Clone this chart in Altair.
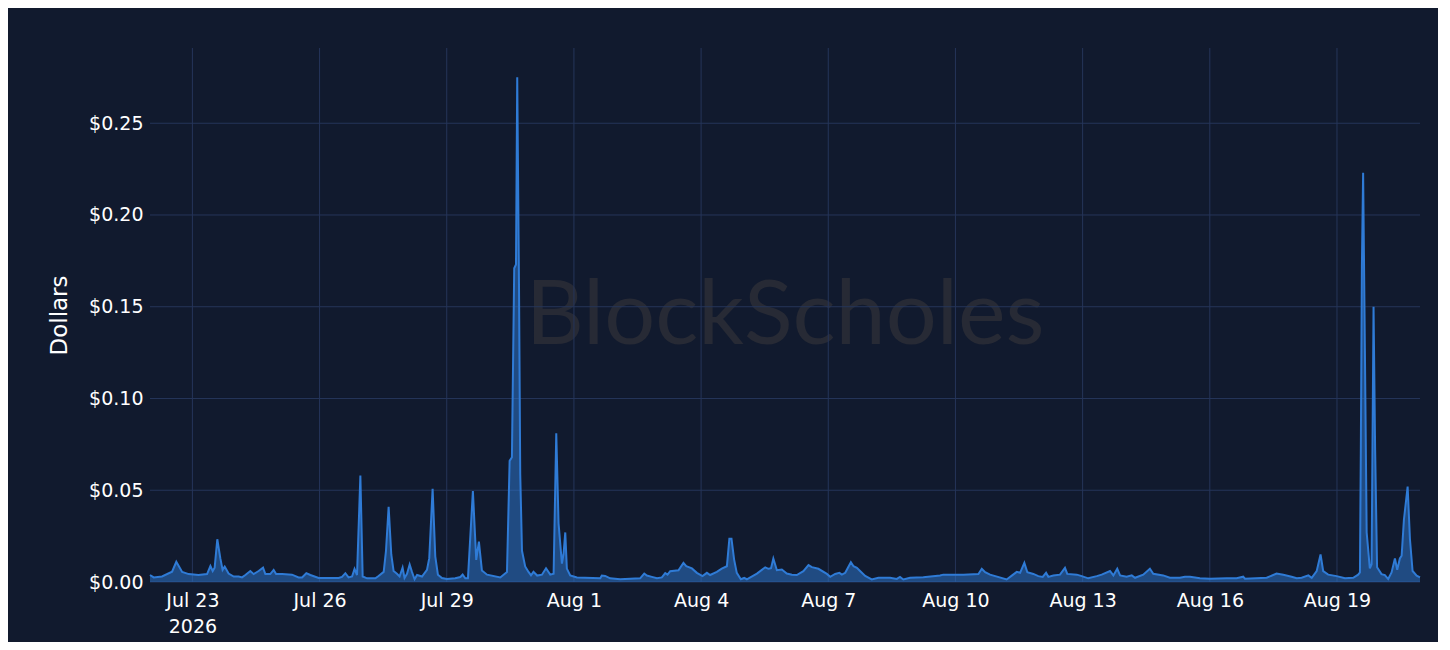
import altair as alt
import pandas as pd

# hours since 2026-07-22 00:00 and price in dollars
hours = [
    0, 2.1, 6.8, 12.5, 14.9, 18.2, 21.9, 27.4, 32.3, 34.2, 35.5, 36.6, 38.1, 39.8, 41.1, 42.3, 44.5, 47.4,
    50.2, 52.1, 54.0, 56.8, 58.7, 61.5, 64.0, 65.3, 68.1, 70.0, 71.4, 74.8, 80.4, 84.1, 86.1, 88.5, 90.8, 95.5,
    106.8, 108.7, 110.6, 112.4, 114.4, 115.8, 117.2, 119.1, 120.4, 122.9, 127.6, 129.4, 132.3, 133.6, 135.1, 136.6,
    137.9, 139.8, 141.3, 143.0, 144.1, 145.5, 147.0, 148.3, 149.8, 151.2, 154.0, 156.8, 158.1, 160.0, 161.5, 163.0,
    165.3, 168.1, 172.8, 175.7, 177.0, 178.5, 180.0, 182.8, 184.7, 186.2, 187.9, 190.8, 198.3, 202.1, 203.6, 204.9,
    206.2, 207.2, 207.9, 208.9, 209.6, 210.6, 212.4, 214.3, 215.7, 217.1, 219.2, 221.9, 224.2, 226.6, 228.5, 230.0,
    231.3, 233.2, 234.1, 235.1, 236.0, 237.9, 241.7, 254.9, 255.8, 257.7, 260.5, 266.2, 277.5, 279.8, 281.3, 284.1,
    287.0, 289.8, 291.7, 293.0, 294.5, 299.2, 302.0, 303.6, 306.8, 309.6, 312.8, 315.3, 317.1, 320.9, 323.7, 326.6,
    328.0, 329.2, 330.7, 332.2, 334.5, 336.4, 337.9, 343.6, 348.3, 350.1, 351.6, 352.9, 354.9, 357.7, 360.5, 363.4,
    366.2, 369.9, 372.8, 374.7, 378.4, 383.2, 385.1, 387.9, 390.3, 391.7, 393.6, 396.8, 398.3, 400.2, 402.0, 404.9,
    408.6, 412.4, 419.0, 422.8, 424.6, 426.5, 430.3, 437.8, 447.3, 449.1, 460.5, 469.0, 470.9, 472.8, 475.6, 485.0,
    487.9, 490.7, 492.6, 495.0, 496.7, 500.1, 502.9, 505.4, 507.3, 508.6, 511.4, 515.2, 518.0, 519.3, 524.7, 527.5,
    531.2, 536.0, 538.8, 543.5, 545.4, 547.6, 549.2, 552.9, 555.8, 557.7, 562.3, 566.1, 568.0, 573.6, 577.4, 583.1,
    585.9, 588.8, 594.4, 600.1, 609.5, 615.2, 618.9, 619.9, 632.2, 637.8, 641.6, 646.3, 649.2, 652.0, 655.8, 657.7,
    660.5, 662.7, 664.2, 667.0, 671.8, 676.5, 681.2, 684.0, 685.0, 685.5, 686.1, 686.8, 687.8, 688.8, 690.6, 691.6,
    692.7, 693.6, 694.7, 697.2, 699.1, 701.0, 702.9, 704.8, 706.1, 707.6, 708.6, 709.9, 712.0, 713.3, 714.8, 717.1,
    719.0,
]
dollars = [
    0.0038, 0.0025, 0.003, 0.0056, 0.011, 0.0055, 0.0043, 0.0038, 0.0043, 0.0087, 0.006, 0.0078, 0.0233, 0.013, 0.0066, 0.0084, 0.0046, 0.003,
    0.003, 0.0025, 0.0038, 0.006, 0.0043, 0.006, 0.0078, 0.0043, 0.0043, 0.0066, 0.0043, 0.0043, 0.004, 0.0025, 0.0025, 0.0048, 0.0038, 0.0022,
    0.0022, 0.0028, 0.0048, 0.0025, 0.003, 0.0071, 0.0038, 0.058, 0.003, 0.002, 0.002, 0.0033, 0.0055, 0.017, 0.041, 0.015,
    0.006, 0.0045, 0.003, 0.0078, 0.0022, 0.0045, 0.0095, 0.0055, 0.0015, 0.0038, 0.003, 0.0066, 0.013, 0.0508, 0.014, 0.004,
    0.0022, 0.0016, 0.002, 0.0027, 0.004, 0.002, 0.002, 0.0495, 0.012, 0.022, 0.0063, 0.004, 0.0025, 0.0055, 0.066, 0.068,
    0.171, 0.173, 0.275, 0.162, 0.059, 0.017, 0.0085, 0.0055, 0.0036, 0.0055, 0.0035, 0.004, 0.0075, 0.004, 0.0045, 0.081,
    0.032, 0.01, 0.015, 0.027, 0.0073, 0.0036, 0.0025, 0.002, 0.0035, 0.0033, 0.002, 0.0015, 0.002, 0.0046, 0.0035, 0.0028,
    0.002, 0.0025, 0.0048, 0.004, 0.0059, 0.0064, 0.0104, 0.0086, 0.0074, 0.005, 0.0032, 0.005, 0.0038, 0.0055, 0.0073, 0.0086,
    0.0236, 0.0236, 0.0122, 0.005, 0.0015, 0.0022, 0.0015, 0.0046, 0.008, 0.0072, 0.0075, 0.0128, 0.0064, 0.0068, 0.0046, 0.004,
    0.0038, 0.0059, 0.0092, 0.0081, 0.0072, 0.0044, 0.0028, 0.0044, 0.005, 0.004, 0.005, 0.0108, 0.0086, 0.0077, 0.006, 0.0033,
    0.0014, 0.0023, 0.0023, 0.0017, 0.0028, 0.0014, 0.0023, 0.0026, 0.0035, 0.004, 0.004, 0.0044, 0.0072, 0.0053, 0.004, 0.0014,
    0.0035, 0.0055, 0.005, 0.0104, 0.0053, 0.0044, 0.0032, 0.0028, 0.005, 0.0028, 0.0035, 0.004, 0.0077, 0.0044, 0.004, 0.0032,
    0.002, 0.0032, 0.004, 0.006, 0.0036, 0.0072, 0.0036, 0.0029, 0.0036, 0.0023, 0.004, 0.0072, 0.0045, 0.0036, 0.0023, 0.0023,
    0.0029, 0.0029, 0.0021, 0.0018, 0.002, 0.002, 0.0029, 0.0018, 0.0023, 0.0046, 0.004, 0.0029, 0.0021, 0.0023, 0.0036, 0.0023,
    0.0059, 0.015, 0.0059, 0.004, 0.0032, 0.002, 0.0023, 0.004, 0.0052, 0.072, 0.172, 0.223, 0.127, 0.027, 0.0074, 0.0097,
    0.15, 0.072, 0.008, 0.0043, 0.0038, 0.0016, 0.0052, 0.0128, 0.0067, 0.0128, 0.0143, 0.034, 0.052, 0.0234, 0.006, 0.0034,
    0.0025,
]
assert len(hours) == len(dollars)

x_tick_dates = ["2026-07-23", "2026-07-26", "2026-07-29", "2026-08-01", "2026-08-04",
                "2026-08-07", "2026-08-10", "2026-08-13", "2026-08-16", "2026-08-19"]
y_tick_values = [0.0, 0.05, 0.10, 0.15, 0.20, 0.25]
watermark = ["BlockScholes"]

BG = "#111a2e"
GRID = "#25355a"
LINE = "#2f7bd6"
FONT = "DejaVu Sans"
W, H = 1270, 534
Y_MAX = 0.291

start = pd.Timestamp("2026-07-22 00:00:00")
df = pd.DataFrame({
    "time": [(start + pd.Timedelta(hours=h)).strftime("%Y-%m-%dT%H:%M:%S") for h in hours],
    "value": dollars,
})
vgrid = pd.DataFrame({"time": [d + "T00:00:00" for d in x_tick_dates]})
hgrid = pd.DataFrame({"value": y_tick_values})
wm = pd.DataFrame({"label": watermark})

x_vals = []
for d in x_tick_dates:
    t = pd.Timestamp(d)
    x_vals.append(alt.DateTime(year=t.year, month=t.month, date=t.day))

yscale = alt.Scale(domain=[0, Y_MAX], nice=False, zero=True)

text_layer = alt.Chart(wm).mark_text(
    font="Lato", fontSize=90, color="#272a35", align="center", baseline="middle"
).encode(x=alt.value(W / 2), y=alt.value(H / 2 + 2), text="label:N")

vrules = alt.Chart(vgrid).mark_rule(color=GRID, strokeWidth=1).encode(
    x=alt.X("time:T"), y=alt.value(0), y2=alt.value(H)
)
hrules = alt.Chart(hgrid).mark_rule(color=GRID, strokeWidth=1).encode(
    y=alt.Y("value:Q", scale=yscale), x=alt.value(0), x2=alt.value(W)
)

area = alt.Chart(df).mark_area(
    color=LINE, fillOpacity=0.5, interpolate="linear",
    line={"color": LINE, "strokeWidth": 2},
).encode(
    x=alt.X("time:T", title=None,
            axis=alt.Axis(values=x_vals, grid=False, domain=False, ticks=False,
                          labelExpr="timeFormat(datum.value, '%m-%d') == '07-23' ? [timeFormat(datum.value, '%b %-d'), '2026'] : timeFormat(datum.value, '%b %-d')",
                          labelFont=FONT, labelFontSize=19, labelColor="#ffffff",
                          labelPadding=9, labelLineHeight=26, labelBaseline="top",
                          labelOverlap=False, labelFlush=False)),
    y=alt.Y("value:Q", title="Dollars", scale=yscale,
            axis=alt.Axis(values=y_tick_values, format="$.2f", grid=False, domain=False, ticks=False,
                          labelFont=FONT, labelFontSize=19, labelColor="#ffffff", labelPadding=7,
                          titleFont=FONT, titleFontSize=23, titleFontWeight="normal", titleColor="#ffffff",
                          titleAngle=-90, titleX=-91, titleY=H / 2, titleAlign="center",
                          titleBaseline="middle")),
)

chart = alt.layer(text_layer, vrules, hrules, area).properties(
    width=W, height=H,
    autosize=alt.AutoSizeParams(type="none"),
    padding={"left": 142, "top": 40, "right": 18, "bottom": 60},
    background=BG,
).configure_view(stroke=None)

chart.save("out.html", embed_options={"renderer": "svg", "actions": False})
